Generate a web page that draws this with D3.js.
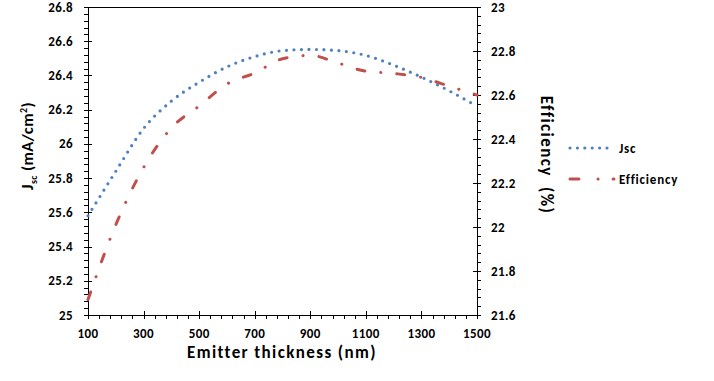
<!DOCTYPE html>
<html>
<head>
<meta charset="utf-8">
<script src="https://cdn.jsdelivr.net/npm/d3@7"></script>
<style>
  html, body { margin: 0; padding: 0; background: #fff; }
  svg { display: block; font-family: Carlito, Lato, "Open Sans", sans-serif; font-weight: bold; }
</style>
</head>
<body>
<svg id="chart" width="714" height="381"></svg>
<script>
const thickness = [100, 200, 300, 400, 500, 600, 700, 800, 900, 1000, 1100, 1200, 1300, 1400, 1500];
const jsc = [25.58, 25.84, 26.09, 26.25, 26.36, 26.45, 26.51, 26.545, 26.552, 26.545, 26.517, 26.46, 26.39, 26.31, 26.22];
const efficiency = [21.67, 22.01, 22.27, 22.45, 22.55, 22.65, 22.70, 22.765, 22.78, 22.745, 22.708, 22.698, 22.68, 22.64, 22.60];
const xTicks = [100, 300, 500, 700, 900, 1100, 1300, 1500];
const leftTicks = [25, 25.2, 25.4, 25.6, 25.8, 26, 26.2, 26.4, 26.6, 26.8];
const rightTicks = [21.6, 21.8, 22, 22.2, 22.4, 22.6, 22.8, 23];
const seriesNames = ["Jsc", "Efficiency"];

const svg = d3.select("#chart");
const L = 88, R = 477, T = 7, B = 315;
const x = d3.scaleLinear().domain([100, 1500]).range([L, R]);
const yL = d3.scaleLinear().domain([25, 26.8]).range([B, T]);
const yR = d3.scaleLinear().domain([21.6, 23]).range([B, T]);

const blue = "#4f81bd", red = "#c0504d";
const axisG = svg.append("g").attr("stroke", "#000").attr("stroke-width", 1).attr("shape-rendering", "crispEdges");

// frame lines
axisG.append("line").attr("x1", L).attr("x2", L).attr("y1", T).attr("y2", B);
axisG.append("line").attr("x1", R).attr("x2", R).attr("y1", T).attr("y2", B);
axisG.append("line").attr("x1", L).attr("x2", R).attr("y1", B).attr("y2", B);
axisG.append("line").attr("x1", L).attr("x2", R).attr("y1", T).attr("y2", T);

// left minor + major ticks
d3.range(0, 46).forEach(i => {
  const v = 25 + i * 0.04;
  const yy = Math.round(yL(v)) + 0.5;
  const major = i % 5 === 0;
  axisG.append("line").attr("x1", L - 4).attr("x2", major ? L + 4 : L).attr("y1", yy).attr("y2", yy);
});
// right ticks
d3.range(0, 36).forEach(i => {
  const v = 21.6 + i * 0.04;
  const yy = Math.round(yR(v)) + 0.5;
  const major = i % 5 === 0;
  axisG.append("line").attr("x1", major ? R - 4 : R).attr("x2", R + 4).attr("y1", yy).attr("y2", yy);
});
// bottom ticks
d3.range(0, 36).forEach(i => {
  const v = 100 + i * 40;
  const xx = Math.round(x(v)) + 0.5;
  const major = i % 5 === 0;
  axisG.append("line").attr("x1", xx).attr("x2", xx).attr("y1", major ? B - 4 : B).attr("y2", B + 4);
});

// tick labels
const lab = svg.append("g").attr("font-size", 13).attr("letter-spacing", 0.4).attr("fill", "#000");
leftTicks.forEach(v => lab.append("text").attr("x", 73).attr("y", yL(v)).attr("dy", "0.35em").attr("text-anchor", "end").text(+v.toFixed(1)));
rightTicks.forEach(v => lab.append("text").attr("x", 491).attr("y", yR(v)).attr("dy", "0.35em").attr("text-anchor", "start").text(+v.toFixed(1)));
xTicks.forEach(v => lab.append("text").attr("x", x(v)).attr("y", 338).attr("text-anchor", "middle").text(v));

// axis titles
svg.append("text").attr("x", 282).attr("y", 358).attr("text-anchor", "middle").attr("font-size", 17).attr("letter-spacing", 1.4).text("Emitter thickness (nm)");
const lt = svg.append("text").attr("transform", "translate(33,146) rotate(-90)").attr("text-anchor", "middle").attr("font-size", 16.5).attr("letter-spacing", 0.4);
lt.append("tspan").text("J");
lt.append("tspan").attr("font-size", 10).attr("dy", 4).text("sc");
lt.append("tspan").attr("dy", -4).text(" (mA/cm");
lt.append("tspan").attr("font-size", 10).attr("dy", -6).text("2");
lt.append("tspan").attr("dy", 6).text(")");
svg.append("text").attr("transform", "translate(541,155) rotate(90)").attr("text-anchor", "middle").attr("font-size", 17).attr("letter-spacing", 1.4).attr("xml:space", "preserve").text("Efficiency  (%)");

// series
const lineJ = d3.line().x((d, i) => x(thickness[i])).y(d => yL(d)).curve(d3.curveMonotoneX);
const lineE = d3.line().x((d, i) => x(thickness[i])).y(d => yR(d)).curve(d3.curveMonotoneX);
svg.append("path").attr("d", lineJ(jsc)).attr("fill", "none").attr("stroke", blue).attr("stroke-width", 3.2)
  .attr("stroke-linecap", "round").attr("stroke-dasharray", "0,7.5");
svg.append("path").attr("d", lineE(efficiency)).attr("fill", "none").attr("stroke", red).attr("stroke-width", 3)
  .attr("stroke-linecap", "round").attr("stroke-dasharray", "8,16,0.1,16");

// legend
const lg = svg.append("g");
lg.append("line").attr("x1", 570).attr("x2", 608).attr("y1", 148).attr("y2", 148).attr("stroke", blue).attr("stroke-width", 3.2)
  .attr("stroke-linecap", "round").attr("stroke-dasharray", "0,7.4");
lg.append("line").attr("x1", 570).attr("x2", 614).attr("y1", 179).attr("y2", 179).attr("stroke", red).attr("stroke-width", 3)
  .attr("stroke-linecap", "round").attr("stroke-dasharray", "9,19,0.1,15");
lg.append("text").attr("x", 619).attr("y", 148).attr("dy", "0.35em").attr("font-size", 13).attr("letter-spacing", 0.8).text(seriesNames[0]);
lg.append("text").attr("x", 619).attr("y", 179).attr("dy", "0.35em").attr("font-size", 13).attr("letter-spacing", 0.8).text(seriesNames[1]);
</script>
</body>
</html>
